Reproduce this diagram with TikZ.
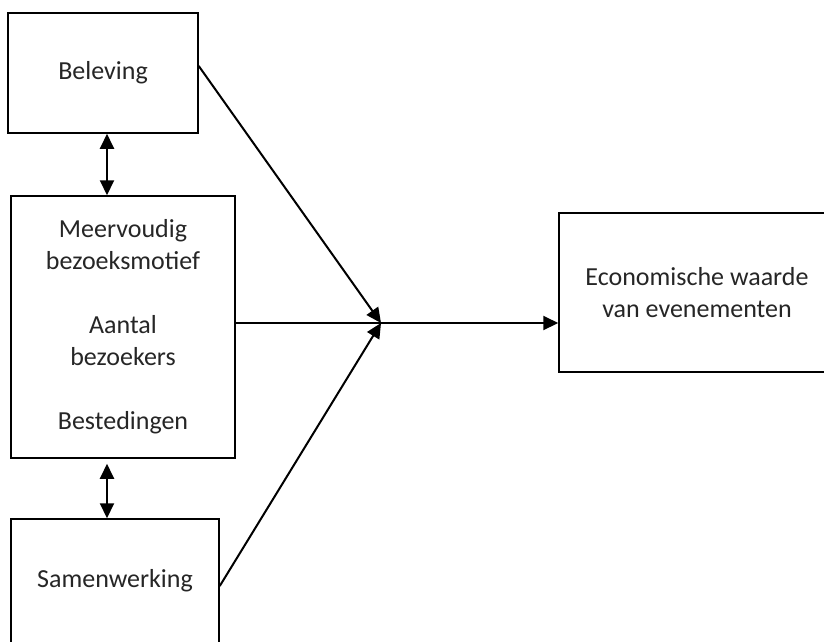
\documentclass[tikz,border=0pt]{standalone}
\usepackage{fontspec}
\setmainfont{Carlito}
\usetikzlibrary{arrows.meta}
\newcommand{\picw}{824}
\newcommand{\pich}{641}
\newcommand{\cliptopage}{%
  \coordinate (NW) at (0,0);
  \coordinate (SE) at (\picw,\pich);
  \useasboundingbox (NW) rectangle (SE);
  \clip (NW) rectangle (SE);
  \fill[white] (NW) rectangle (SE);
}
\tikzset{
  box/.style={draw, line width=1.5pt, align=center, inner sep=0pt,
    text=black!85},
  link/.style={line width=2pt, -{Triangle[length=15pt,width=14pt]}},
  twoway/.style={line width=2pt,
    {Triangle[length=15pt,width=14pt]}-{Triangle[length=15pt,width=14pt]}},
}

\begin{document}
\begin{tikzpicture}[x=1pt, y=-1pt, font=\fontsize{26}{32}\selectfont]
    \cliptopage
    %
    \node[box, minimum width=190pt, minimum height=120pt] (bel)
        at (103, 73) {Beleving};

    \node[box, minimum width=224pt, minimum height=262pt] (mid)
        at (123, 327) {Meervoudig\\bezoeksmotief\\[32pt]Aantal\\bezoekers\\[32pt]Bestedingen};

    \node[box, minimum width=208pt, minimum height=124pt] (sam)
        at (115, 581) {Samenwerking};

    \node[box, minimum width=276pt, minimum height=159pt] (eco)
        at (697, 292.5) {Economische waarde\\van evenementen};

    % where the three arrows meet
    \coordinate (hub) at (381, 323);
    \coordinate (axis) at (107, 0);

    \draw[link] ([yshift=7pt]bel.east) -- (hub);
    \draw[link] ([yshift=-5pt]sam.east) -- (hub);
    \draw[link] (hub -| mid.east) -- (hub -| eco.west);

    \draw[twoway] (bel.south -| axis) -- (axis |- mid.north);
    \draw[twoway, shorten <=5pt] (axis |- mid.south) -- (axis |- sam.north);

  \end{tikzpicture}
\end{document}
